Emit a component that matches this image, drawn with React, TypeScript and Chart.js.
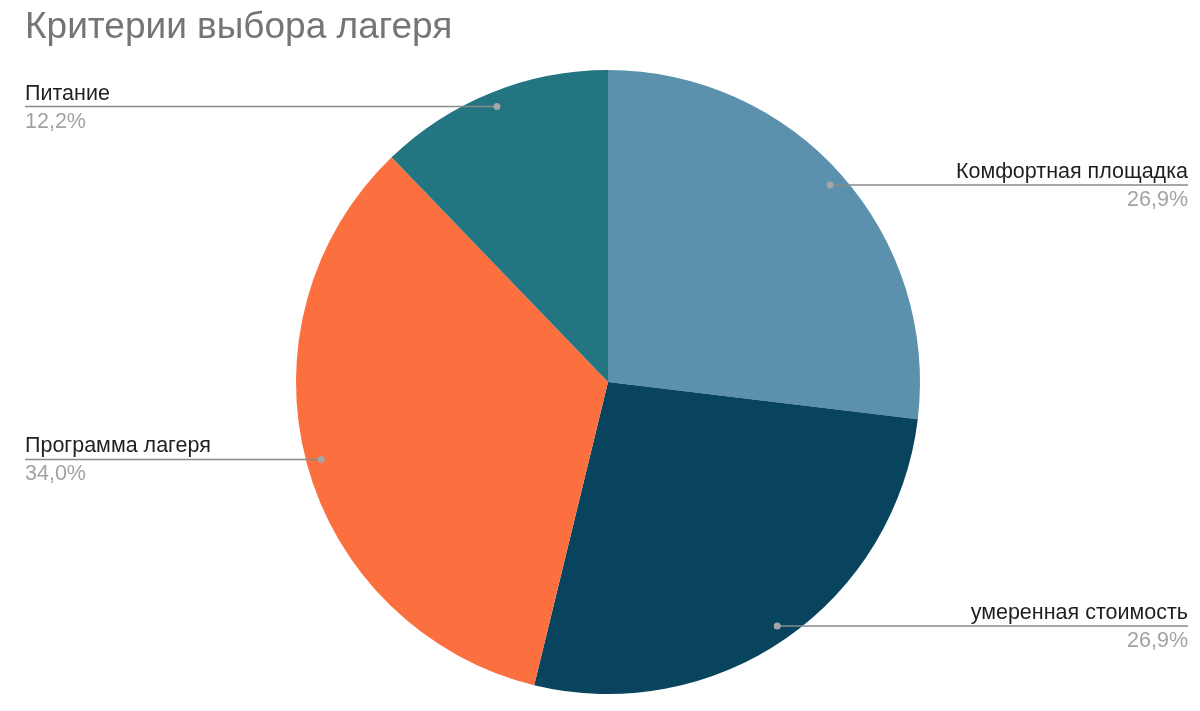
import React, { useEffect, useRef } from "react";
import { Chart, registerables } from "chart.js";

Chart.register(...registerables);

const title = "Критерии выбора лагеря";
const categories = ["Комфортная площадка", "умеренная стоимость", "Программа лагеря", "Питание"];
const values = [26.9, 26.9, 34.0, 12.2];
const percentLabels = ["26,9%", "26,9%", "34,0%", "12,2%"];
const colors = ["#5b91ad", "#08445e", "#fc6f3e", "#237582"];

const FONT = "Arial, 'Liberation Sans', sans-serif";

const labelPlugin = {
  id: "leaderLabels",
  afterDraw(chart: any) {
    const ctx = chart.ctx as CanvasRenderingContext2D;
    const meta = chart.getDatasetMeta(0);
    const W = chart.width;
    ctx.save();
    // title
    ctx.font = `37px ${FONT}`;
    ctx.fillStyle = "#757575";
    ctx.textAlign = "left";
    ctx.textBaseline = "alphabetic";
    ctx.fillText(title, 25, 38);

    meta.data.forEach((arc: any, i: number) => {
      const { x, y, startAngle, endAngle, outerRadius } = arc.getProps(
        ["x", "y", "startAngle", "endAngle", "outerRadius"],
        true
      );
      const mid = (startAngle + endAngle) / 2;
      const r = outerRadius * 0.952;
      const px = x + Math.cos(mid) * r;
      const py = y + Math.sin(mid) * r;
      const right = px > x;
      const edge = right ? W - 12 : 25;
      ctx.strokeStyle = "#8a8a8a";
      ctx.lineWidth = 1.5;
      ctx.beginPath();
      ctx.moveTo(px, py);
      ctx.lineTo(edge, py);
      ctx.stroke();
      ctx.fillStyle = "#a6a6a6";
      ctx.beginPath();
      ctx.arc(px, py, 3.5, 0, Math.PI * 2);
      ctx.fill();
      ctx.textAlign = right ? "right" : "left";
      ctx.font = `21.5px ${FONT}`;
      ctx.fillStyle = "#1f1f1f";
      ctx.fillText(categories[i], edge, py - 7);
      ctx.fillStyle = "#a3a3a3";
      ctx.fillText(percentLabels[i], edge, py + 21);
    });
    ctx.restore();
  },
};

export default function App() {
  const ref = useRef<HTMLCanvasElement | null>(null);
  useEffect(() => {
    if (!ref.current) return;
    const chart = new Chart(ref.current, {
      type: "pie",
      data: {
        labels: categories,
        datasets: [
          {
            data: values,
            backgroundColor: colors,
            borderWidth: 0,
          },
        ],
      },
      options: {
        animation: false,
        responsive: false,
        maintainAspectRatio: false,
        layout: { padding: { top: 70, bottom: 17, left: 296, right: 280 } },
        plugins: {
          legend: { display: false },
          tooltip: { enabled: false },
          title: { display: false },
        },
      },
      plugins: [labelPlugin],
    });
    return () => chart.destroy();
  }, []);
  return (
    <div style={{ position: "fixed", left: 0, top: 0, width: 1200, height: 711, background: "#fff" }}>
      <canvas ref={ref} width={1200} height={711} style={{ width: 1200, height: 711 }} />
    </div>
  );
}
